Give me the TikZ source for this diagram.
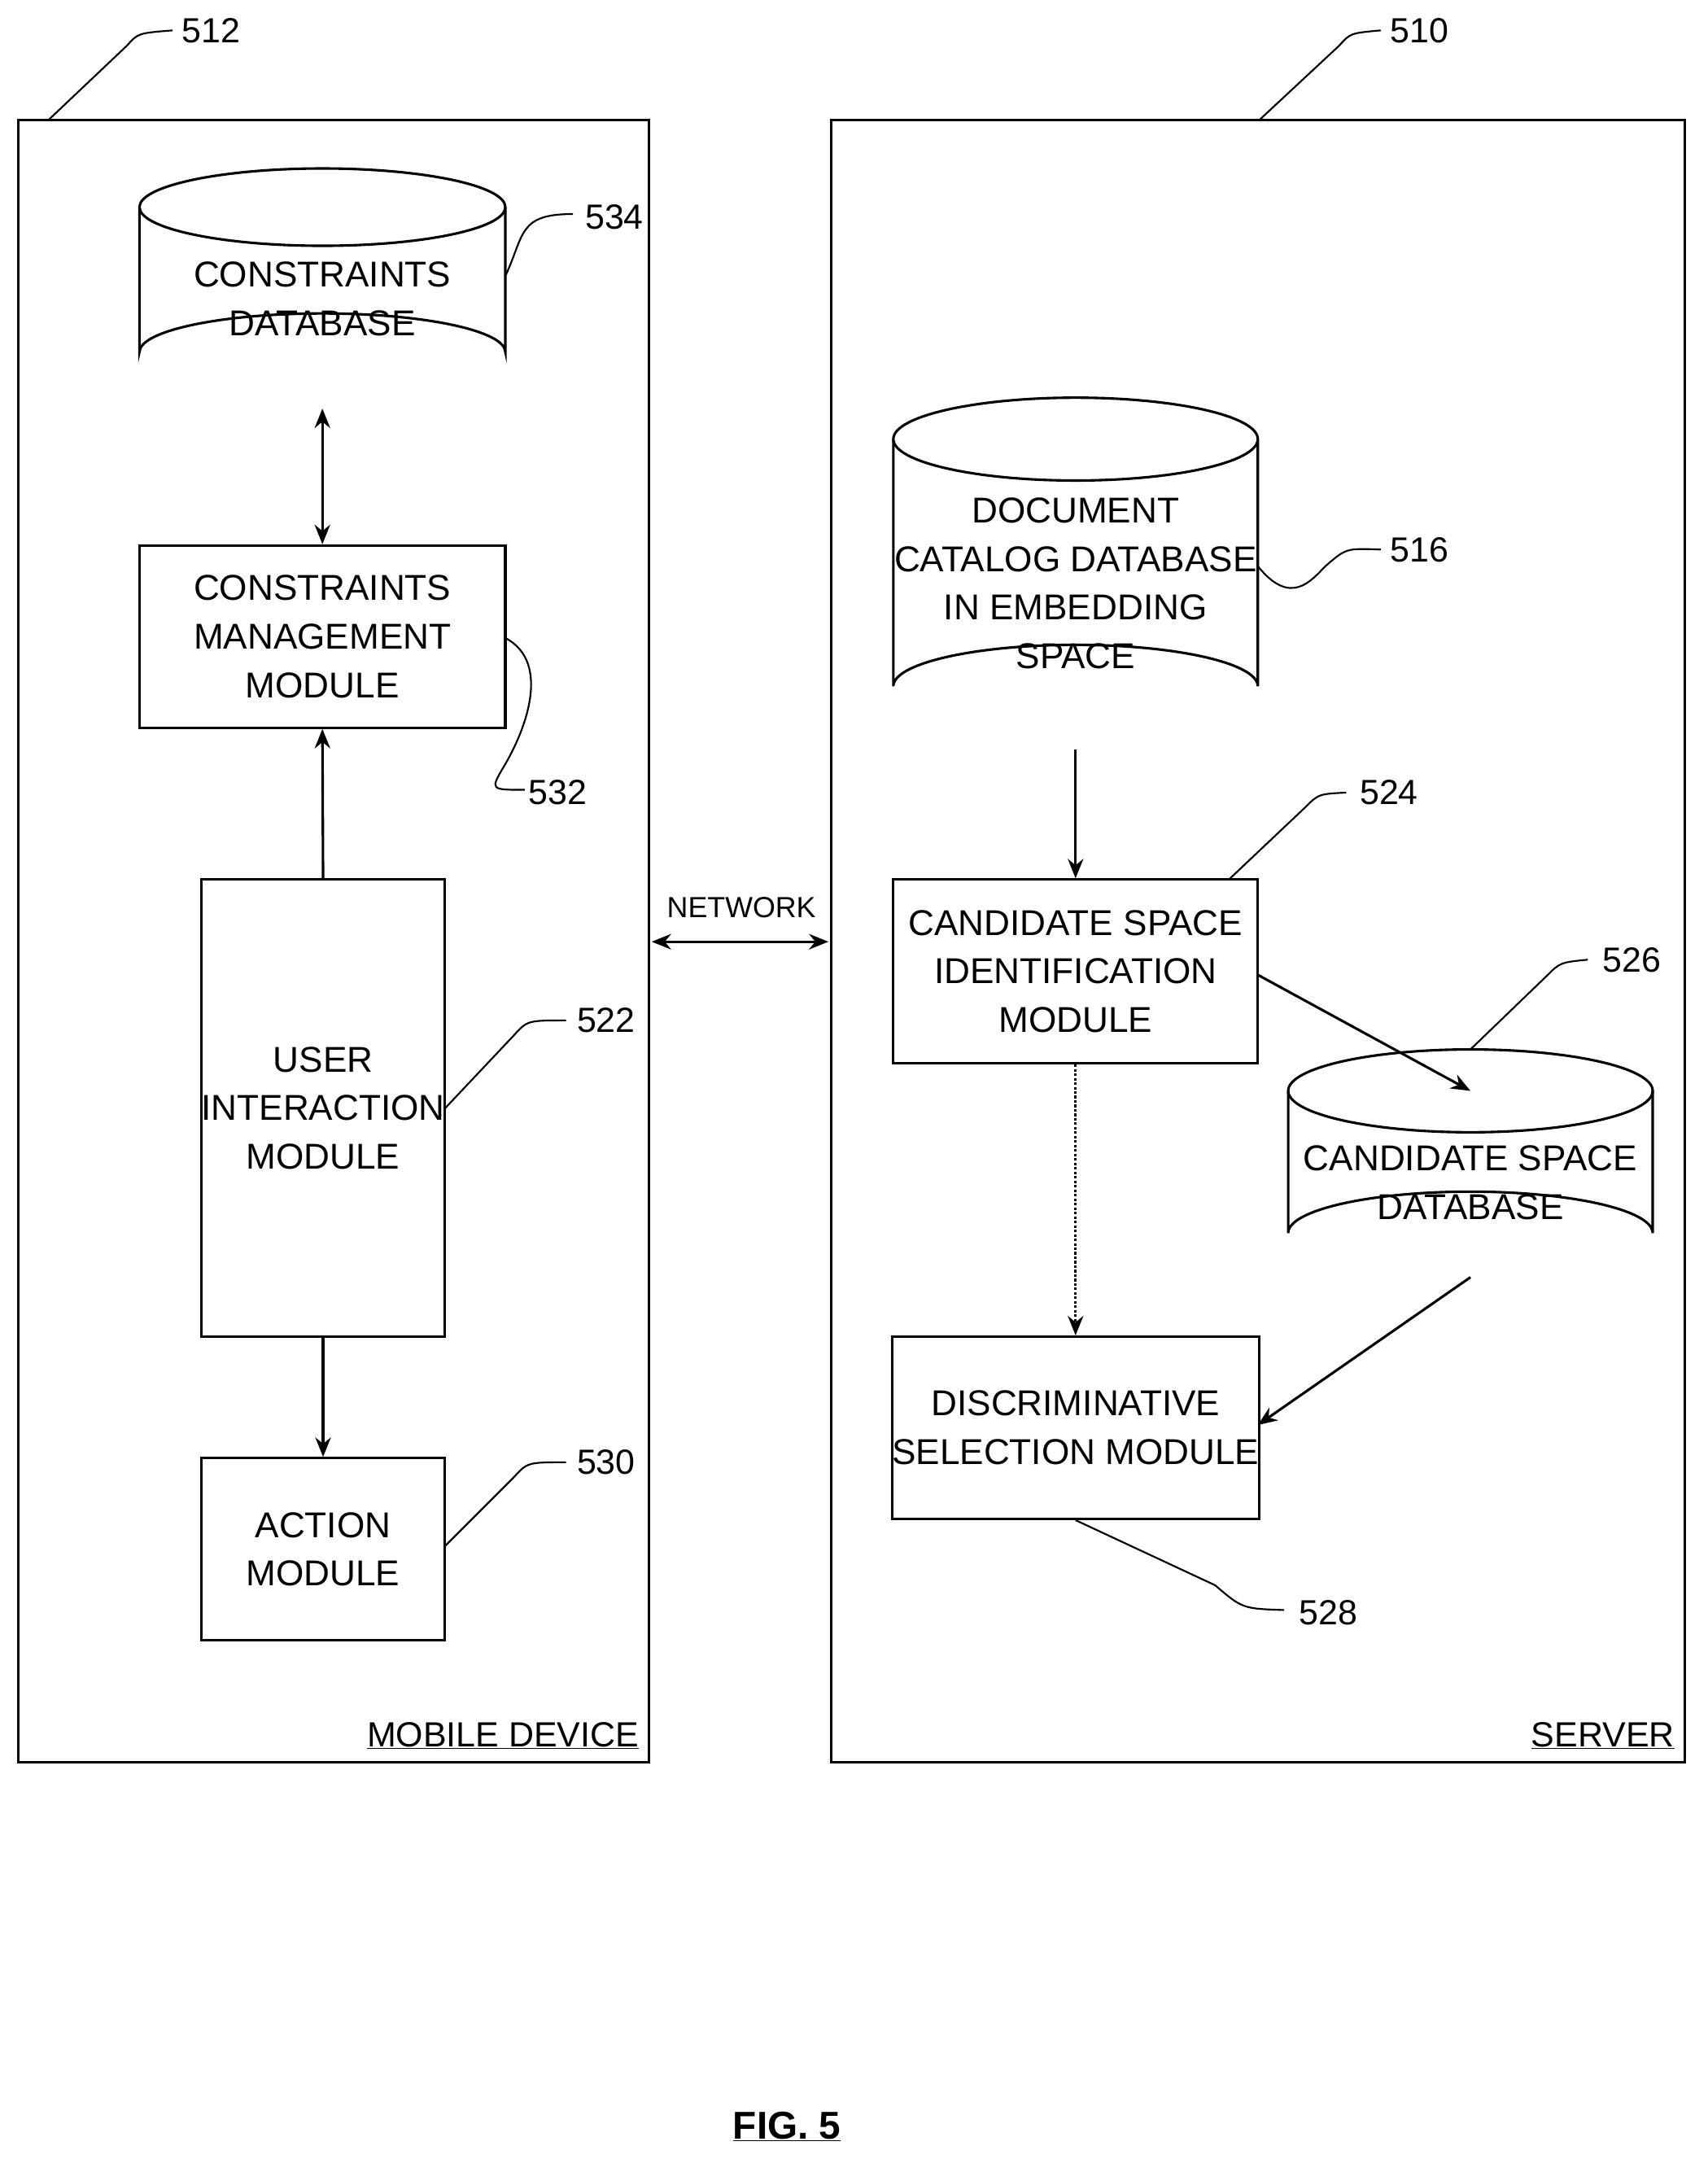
\documentclass[tikz,border=0pt]{standalone}
\usepackage{fontspec}
\setmainfont{Liberation Sans}
\usetikzlibrary{arrows.meta}
\begin{document}
\begin{tikzpicture}[x=0.05cm,y=-0.05cm,line width=2.6pt,
  box/.style={draw,rectangle,align=center,font=\fontsize{37}{50}\selectfont,inner sep=0pt},
  lbl/.style={font=\fontsize{36}{40}\selectfont},
  arr/.style={-{Stealth[length=20pt,width=16pt]}},
  darr/.style={{Stealth[length=20pt,width=16pt]}-{Stealth[length=20pt,width=16pt]}},
  lead/.style={line width=1.8pt}]
\useasboundingbox (0,0) rectangle (1237,1573);
\newcommand{\mycyl}[7]{% name x1 x2 ytop ybot ry text
  \pgfmathsetmacro{\rx}{(#3-#2)/2}
  \draw[fill=white] (#2,#4) -- (#2,#5) arc[start angle=180,end angle=360,x radius=\rx,y radius=#6] -- (#3,#4);
  \draw ({(#2+#3)/2},#4) ellipse[x radius=\rx,y radius=#6];
  \node[box,draw=none,minimum width={(#3-#2)*0.05cm},minimum height={(#5-#4+2*#6)*0.05cm}] (#1) at ({(#2+#3)/2},{(#4+#5)/2+#6/2}) {#7};
}
% containers
\draw (13,87) rectangle (470,1276);
\draw (602,87) rectangle (1220,1276);
\node[lbl,anchor=south east] (md) at (466,1270) {\underline{MOBILE DEVICE}};
\node[lbl,anchor=south east] (sv) at (1216,1270) {\underline{SERVER}};
\node[lbl] (l512) at (153,22) {512};
\node[lbl] (l510) at (1028,22) {510};
\draw[lead] (35,87) -- (92,33) .. controls (100,24) .. (125,22);
\draw[lead] (912,87) -- (970,33) .. controls (978,24) .. (1000,22);
% left side
\mycyl{cdb}{101}{366}{150}{255}{28}{CONSTRAINTS\\DATABASE}
\node[lbl] (l534) at (445,157) {534};
\draw[lead] (366,200) .. controls (380,170) and (375,155) .. (415,155);
\node[box,minimum width=265*0.05cm,minimum height=132*0.05cm] (cmm) at (233.5,461) {CONSTRAINTS\\MANAGEMENT\\MODULE};
\node[lbl] (l532) at (404,574) {532};
\draw[lead] (366,462) .. controls (400,480) and (380,530) .. (365,555) .. controls (355,572) .. (380,572);
\node[box,minimum width=176*0.05cm,minimum height=331*0.05cm] (uim) at (234,802.5) {USER\\INTERACTION\\MODULE};
\node[lbl] (l522) at (439,739) {522};
\draw[lead] (322,803) -- (372,750) .. controls (382,739) .. (410,739);
\node[box,minimum width=176*0.05cm,minimum height=132*0.05cm] (act) at (234,1122) {ACTION\\MODULE};
\node[lbl] (l530) at (439,1059) {530};
\draw[lead] (322,1120) -- (372,1070) .. controls (382,1059) .. (410,1059);
\draw[darr] (cdb.south) ++(0,-2) -- (cmm.north);
\draw[arr] (uim.north) -- (cmm.south);
\draw[arr] (uim.south) -- (act.north);
% network
\node[font=\fontsize{30}{34}\selectfont] (net) at (537,657) {NETWORK};
\coordinate (nl) at (472,682); \coordinate (nr) at (600,682);
\draw[darr] (nl) -- (nr);
% right side
\mycyl{dcd}{647}{911}{318}{497}{30}{DOCUMENT\\CATALOG DATABASE\\IN EMBEDDING\\SPACE}
\node[lbl] (l516) at (1028,398) {516};
\draw[lead] (911,410) .. controls (935,440) and (950,420) .. (960,410) .. controls (975,397) .. (1000,398);
\node[box,minimum width=264*0.05cm,minimum height=133*0.05cm] (csi) at (779,703.5) {CANDIDATE SPACE\\IDENTIFICATION\\MODULE};
\node[lbl] (l524) at (1006,574) {524};
\draw[lead] (890,637) -- (945,585) .. controls (955,575) .. (975,574);
\mycyl{csd}{933}{1197}{790}{893}{30}{CANDIDATE SPACE\\DATABASE}
\node[lbl] (l526) at (1182,695) {526};
\draw[lead] (1065,760) -- (1120,707) .. controls (1130,697) .. (1150,695);
\node[box,minimum width=264*0.05cm,minimum height=132*0.05cm] (dsm) at (779,1034) {DISCRIMINATIVE\\SELECTION MODULE};
\node[lbl] (l528) at (962,1168) {528};
\draw[lead] (dsm.south) -- (880,1148) .. controls (900,1165) .. (930,1166);
\draw[arr] (dcd.south) -- (csi.north);
\draw[arr] (911,706) -- (1065,790);
\draw[arr,dotted] (csi.south) -- (dsm.north);
\draw[arr] (1065,925) -- (911,1032);
% caption
\node[font=\bfseries\fontsize{40}{44}\selectfont] (fig) at (570,1540) {\underline{FIG. 5}};
\end{tikzpicture}
\end{document}
